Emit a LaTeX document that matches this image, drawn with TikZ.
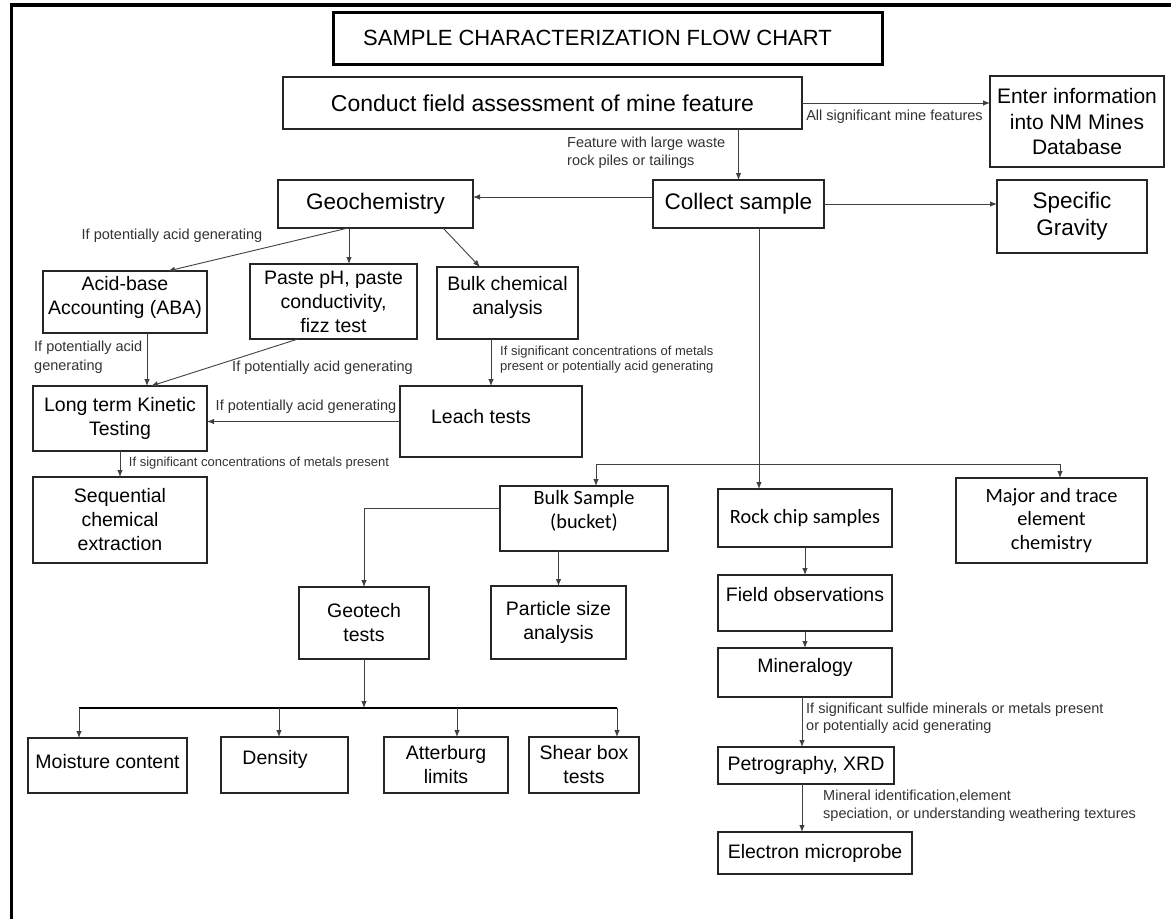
\documentclass[tikz,border=0pt]{standalone}
\usepackage{fontspec}
\setmainfont{Liberation Sans}
\newfontfamily\calib{Carlito}
\usetikzlibrary{arrows.meta}
\newcommand\myfs[2]{\fontsize{#1}{#2}\selectfont}
\begin{document}
\begin{tikzpicture}[x=1pt,y=-1pt,
 box/.style={draw=black!85,line width=1.2pt,inner sep=0pt,outer sep=0pt,align=center,text=black},
 wh/.style 2 args={minimum width=#1pt,minimum height=#2pt},
 bigtxt/.style={font=\myfs{22.5}{27}},
 midtxt/.style={font=\myfs{19.5}{24}},
 caltxt/.style={font=\calib\myfs{20.3}{23.5}},
 lbl/.style={inner sep=0pt,text=black!80,font=\myfs{14.5}{18}},
 arr/.style={draw=black!75,line width=0.9pt,-{Latex[length=7pt,width=5.5pt]}}]
\useasboundingbox (0,0) rectangle (1171,919);
\fill[white] (0,0) rectangle (1171,919);
% frame
\draw[line width=3.5pt,black] (11.5,919) -- (11.5,5) -- (1171,5);
% boxes
\node[box,line width=3pt,draw=black,wh={549}{52},font=\myfs{22}{26}] (title) at (607.5,38) {SAMPLE CHARACTERIZATION FLOW CHART\hspace*{20pt}};
\node[box,wh={519}{52},font=\myfs{23}{27}] (conduct) at (542.5,103) {Conduct field assessment of mine feature};
\node[box,wh={174}{91},font=\myfs{21}{25.5}] (enter) at (1077,121.5) {Enter information\\into NM Mines\\Database};
\node[box,bigtxt,wh={171}{48}] (collect) at (738.5,204) {Collect sample};
\node[box,bigtxt,wh={150}{73}] (specific) at (1072,216.5) {Specific\\Gravity};
\node[box,bigtxt,wh={195}{48}] (geochem) at (375.5,204) {Geochemistry};
\node[box,midtxt,wh={164}{62},text depth=14pt] (aba) at (125,302) {Acid-base\\Accounting (ABA)};
\node[box,midtxt,wh={167}{75}] (paste) at (333.5,301.5) {Paste pH, paste\\conductivity,\\fizz test};
\node[box,midtxt,wh={141}{72},text depth=15pt] (bulkchem) at (507.5,303) {Bulk chemical\\analysis};
\node[box,midtxt,wh={174}{65}] (long) at (120,418.5) {Long term Kinetic\\Testing};
\node[box,midtxt,wh={182}{71},text depth=10pt] (leach) at (491,421.5) {Leach tests\hspace*{20pt}};
\node[box,midtxt,wh={174}{86}] (seq) at (120,520) {Sequential\\chemical\\extraction};
\node[box,caltxt,wh={168}{65},text depth=18pt] (bulksample) at (584,518.5) {Bulk Sample\\(bucket)};
\node[box,caltxt,wh={174}{58}] (rock) at (805,518) {Rock chip samples};
\node[box,caltxt,wh={191}{85}] (major) at (1051.5,520.5) {Major and trace\\element\\chemistry};
\node[box,midtxt,wh={135}{73}] (particle) at (558.5,622.5) {Particle size\\analysis};
\node[box,midtxt,wh={130}{72}] (geotech) at (364,623) {Geotech\\tests};
\node[box,midtxt,wh={174}{56},text depth=18pt] (field) at (805,603) {Field observations};
\node[box,midtxt,wh={174}{49},text depth=15pt] (mineral) at (805,672.5) {Mineralogy};
\node[box,midtxt,wh={176}{37}] (petro) at (806,765.5) {Petrography, XRD};
\node[box,midtxt,wh={194}{42}] (electron) at (815,853) {Electron microprobe};
\node[box,midtxt,wh={159}{55},text depth=9pt] (moisture) at (107.5,765.5) {Moisture content};
\node[box,midtxt,wh={127}{56},text depth=16pt] (density) at (284.5,765) {Density\hspace*{19pt}};
\node[box,midtxt,wh={124}{56}] (atter) at (446,765) {Atterburg\\limits};
\node[box,midtxt,wh={110}{56}] (shear) at (584,765) {Shear box\\tests};
% connectors and labels
\draw[arr] (conduct.east) -- (enter.west |- conduct.east);
\node[lbl] (l1) at (894.5,117) {All significant mine features};
\draw[arr] (collect.north |- conduct.south) -- (collect.north);
\node[lbl,anchor=west,align=left] (l2) at (567,153) {Feature with large waste\\rock piles or tailings};
\draw[arr] ([yshift=7pt]collect.west) -- ([yshift=7pt]geochem.east);
\draw[arr] (collect.east) -- (specific.west |- collect.east);
\draw[arr] ([xshift=-27.5pt]geochem.south) -- ([xshift=43pt]aba.north);
\node[lbl] (l3) at (172,236) {If potentially acid generating};
\coordinate (pn) at ([xshift=15.5pt]paste.north);
\draw[arr] (pn |- geochem.south) -- (pn);
\draw[arr] ([xshift=67.5pt]geochem.south) -- ([xshift=-27.5pt]bulkchem.north);
\coordinate (as) at ([xshift=22pt]aba.south);
\draw[arr] (as) -- (as |- long.north);
\node[lbl,anchor=west,align=left,font=\myfs{14.5}{19}] (l4) at (34,357.5) {If potentially acid\\generating};
\draw[arr] ([xshift=-35.5pt]paste.south) -- ([xshift=31pt]long.north);
\node[lbl] (l5) at (322.5,368) {If potentially acid generating};
\draw[arr] (leach.west) -- (long.east |- leach.west);
\node[lbl] (l6) at (306,407) {If potentially acid generating};
\draw[arr] (leach.north |- bulkchem.south) -- (leach.north);
\node[lbl,anchor=west,align=left,font=\myfs{13}{15}] (l7) at (500,359.5) {If significant concentrations of metals\\present or potentially acid generating};
\draw[arr] (long.south) -- (seq.north);
\node[lbl,font=\myfs{13}{15}] (l8) at (259,463) {If significant concentrations of metals present};
\coordinate (cs) at ([xshift=20.5pt]collect.south);
\draw[arr] (cs) -- (cs |- rock.north);
\coordinate (split) at (cs |- 0,464);
\coordinate (bsn) at ([xshift=12pt]bulksample.north);
\coordinate (mjn) at ([xshift=8.5pt]major.north);
\draw[arr] (split) -| (bsn);
\draw[arr] (split) -| (mjn);
\draw[arr] ([yshift=10.5pt]bulksample.west) -| (geotech.north);
\draw[arr] (particle.north |- bulksample.south) -- (particle.north);
\draw[arr] (rock.south) -- (field.north);
\draw[arr] (field.south) -- (mineral.north);
\coordinate (ms) at ([xshift=-3pt]mineral.south);
\draw[arr] (ms) -- (ms |- petro.north);
\node[lbl,anchor=west,align=left,font=\myfs{14.5}{17}] (l9) at (806,718.5) {If significant sulfide minerals or metals present\\or potentially acid generating};
\draw[arr] (ms |- petro.south) -- (ms |- electron.north);
\node[lbl,anchor=west,align=left] (l10) at (823,806) {Mineral identification,element\\speciation, or understanding weathering textures};
\coordinate (bar) at (geotech.south |- 0,708);
\draw[arr] (geotech.south) -- (bar);
\coordinate (m1) at ([xshift=-28.5pt]moisture.north);
\coordinate (d1) at ([xshift=-5.5pt]density.north);
\coordinate (a1) at ([xshift=11pt]atter.north);
\coordinate (s1) at ([xshift=33pt]shear.north);
\draw[line width=2pt,black] (m1 |- bar) -- (s1 |- bar);
\foreach \c in {m1,d1,a1,s1} \draw[arr] (\c |- bar) -- (\c);
\end{tikzpicture}
\end{document}
